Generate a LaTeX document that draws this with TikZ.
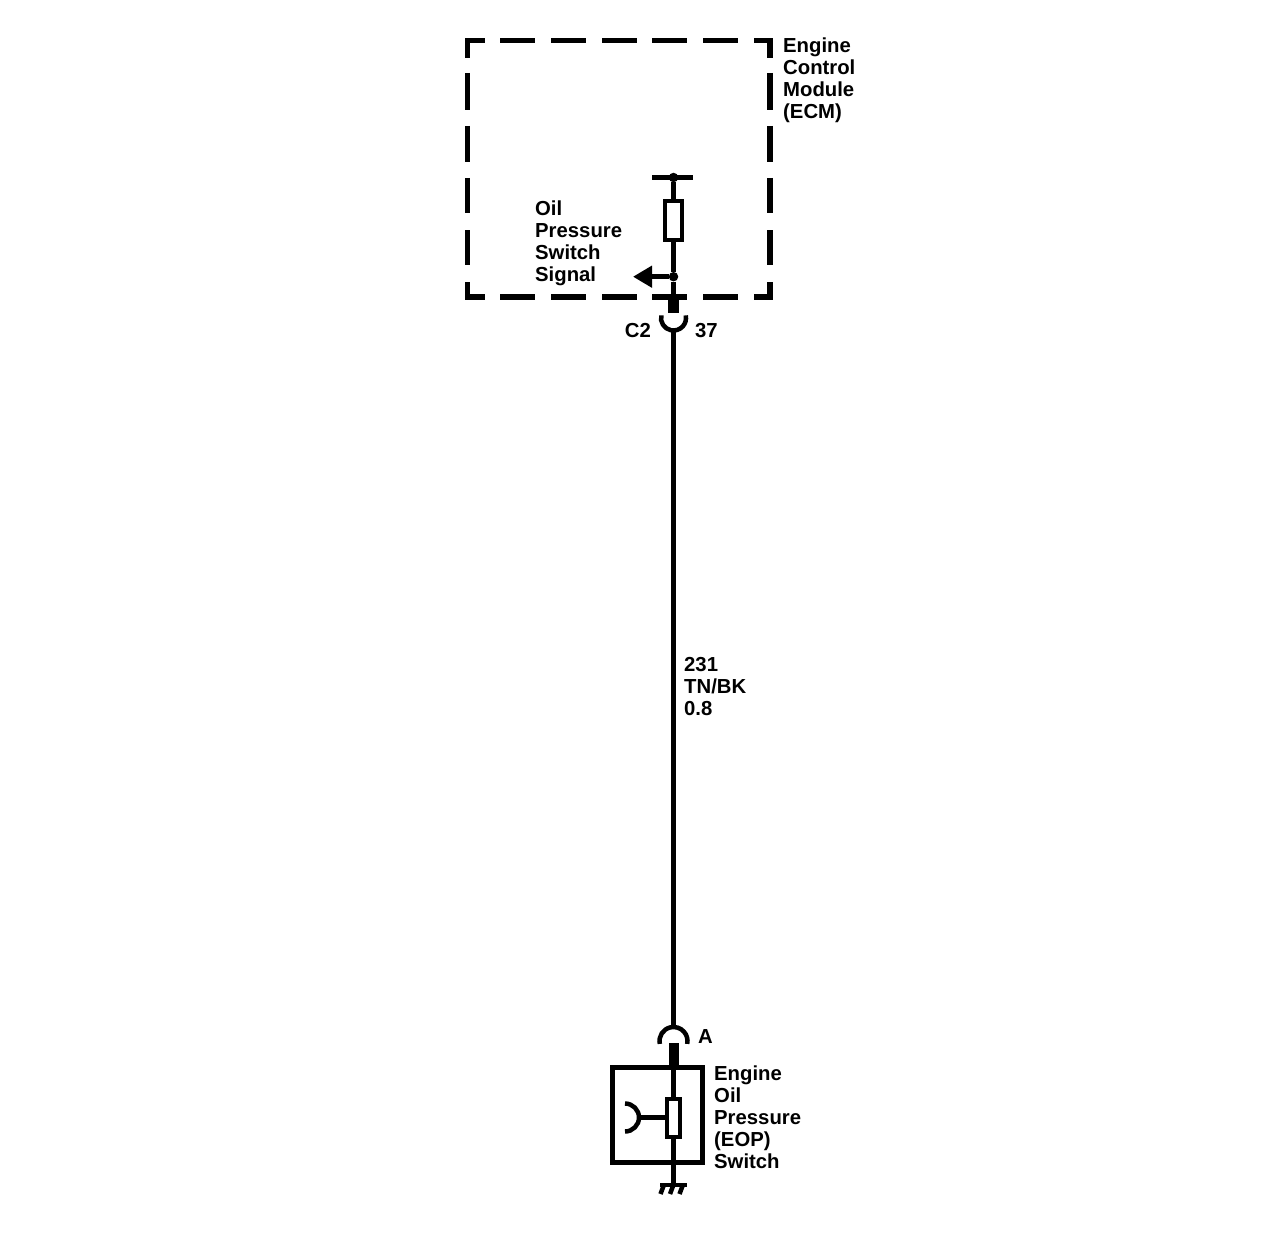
\documentclass[tikz,border=0pt]{standalone}
\usepackage{fontspec}
\setmainfont{Liberation Sans}
\usetikzlibrary{arrows.meta}
\begin{document}
\begin{tikzpicture}[x=1pt,y=-1pt,
  wire/.style={line width=4.5pt},
  stub/.style={line width=11pt},
  dashseg/.style={line width=5.5pt},
  corner/.style={line width=5.5pt, line join=miter},
  dotn/.style={circle, fill=black, inner sep=0pt, minimum size=9.5pt},
  resbox/.style={draw, line width=4pt, rectangle, inner sep=0pt, fill=white},
  gndleg/.style={line width=4.5pt},
  lbl/.style={font=\fontsize{20.3}{22}\selectfont\bfseries, anchor=base west, align=left, inner sep=0pt},
]
\useasboundingbox (0,0) rectangle (1280,1244);
\fill[white] (0,0) rectangle (1280,1244);

% ---- ECM dashed boundary ----
\draw[corner] (467.5,58) -- (467.5,40.5) -- (485,40.5);
\draw[corner] (754,40.5) -- (770,40.5) -- (770,58);
\draw[corner] (467.5,282) -- (467.5,297) -- (485,297);
\draw[corner] (754,297) -- (770,297) -- (770,282);
\foreach \a/\b in {500/535,551/586,602/637,652/687,703/738}{
  \draw[dashseg] (\a,40.5) -- (\b,40.5);
  \draw[dashseg] (\a,297) -- (\b,297);
}
\foreach \a/\b in {73/110,126/162,178/213,230/265}{
  \draw[dashseg] (467.5,\a) -- (467.5,\b);
  \draw[dashseg] (770,\a) -- (770,\b);
}

% ---- ECM internal circuit ----
\coordinate (barL) at (652,177.5);
\coordinate (barR) at (693,177.5);
\draw[wire] (barL) -- (barR);
\node[dotn] (jtop) at (673.5,177.5) {};
\node[resbox, minimum width=16.5pt, minimum height=39pt] (r1) at (673.5,220.5) {};
\node[dotn] (jsig) at (673.5,276.7) {};
\coordinate (sigend) at (633,276.7);
\coordinate (edge) at (673.5,297);
\coordinate (stubend) at (673.5,313);
\draw[wire] (jtop) -- (r1.north);
\draw[wire] (r1.south) -- (jsig);
\draw[wire] (jsig) -- (edge);
\draw[wire, -{Triangle[length=19pt,width=21pt]}] (jsig) -- (sigend);
\draw[stub] (edge) -- (stubend);

% ---- C2 connector (cup) ----
\coordinate (c2) at (673.5,318);
\draw[wire] (c2) ++(168:12.5pt) arc[start angle=168, end angle=372, radius=12.5pt];
\coordinate (c2bot) at (673.5,330);

% ---- connector A (dome) ----
\coordinate (ca) at (673.5,1041);
\coordinate (catop) at (673.5,1027);
\draw[wire] (ca) ++(192:14pt) arc[start angle=192, end angle=-12, radius=14pt];

\draw[wire] (c2bot) -- (catop);

% ---- EOP switch ----
\node[draw, line width=4.5pt, rectangle, inner sep=0pt, minimum width=90pt, minimum height=95pt] (eop) at (657.5,1115) {};
\coordinate (astub) at (673.5,1043);
\coordinate (boxtop) at (673.5,1067.5);
\draw[stub, line width=10pt] (astub) -- (boxtop);
\node[resbox, minimum width=13pt, minimum height=38pt] (r2) at (673.5,1117.5) {};
\coordinate (gnd) at (673.5,1185);
\draw[wire] (boxtop) -- (r2.north);
\draw[wire] (r2.south) -- (gnd);
\coordinate (sens) at (625,1117.5);
\coordinate (sensv) at (639,1117.5);
\draw[wire] (sensv) -- (r2.west);
\draw[wire] (sens) ++(90:14pt) arc[start angle=90, end angle=-90, radius=14pt];

% ---- ground ----
\draw[line width=4pt] (660,1185) -- (687,1185);
\draw[gndleg] (663.5,1186) -- (660.5,1194);
\draw[gndleg] (673,1186) -- (670,1194);
\draw[gndleg] (682.5,1186) -- (679.5,1194);

% ---- labels (anchored at the baseline of the last line) ----
\node[lbl] (ecmlbl) at (783,119) {Engine\\Control\\Module\\(ECM)};
\node[lbl] (siglbl) at (535,281) {Oil\\Pressure\\Switch\\Signal};
\node[lbl, anchor=base east] (c2lbl) at (651,337) {C2};
\node[lbl] (pinlbl) at (695,337) {37};
\node[lbl] (wirelbl) at (684,715) {231\\TN/BK\\0.8};
\node[lbl] (albl) at (698,1043) {A};
\node[lbl] (eoplbl) at (714,1168) {Engine\\Oil\\Pressure\\(EOP)\\Switch};
\end{tikzpicture}
\end{document}
